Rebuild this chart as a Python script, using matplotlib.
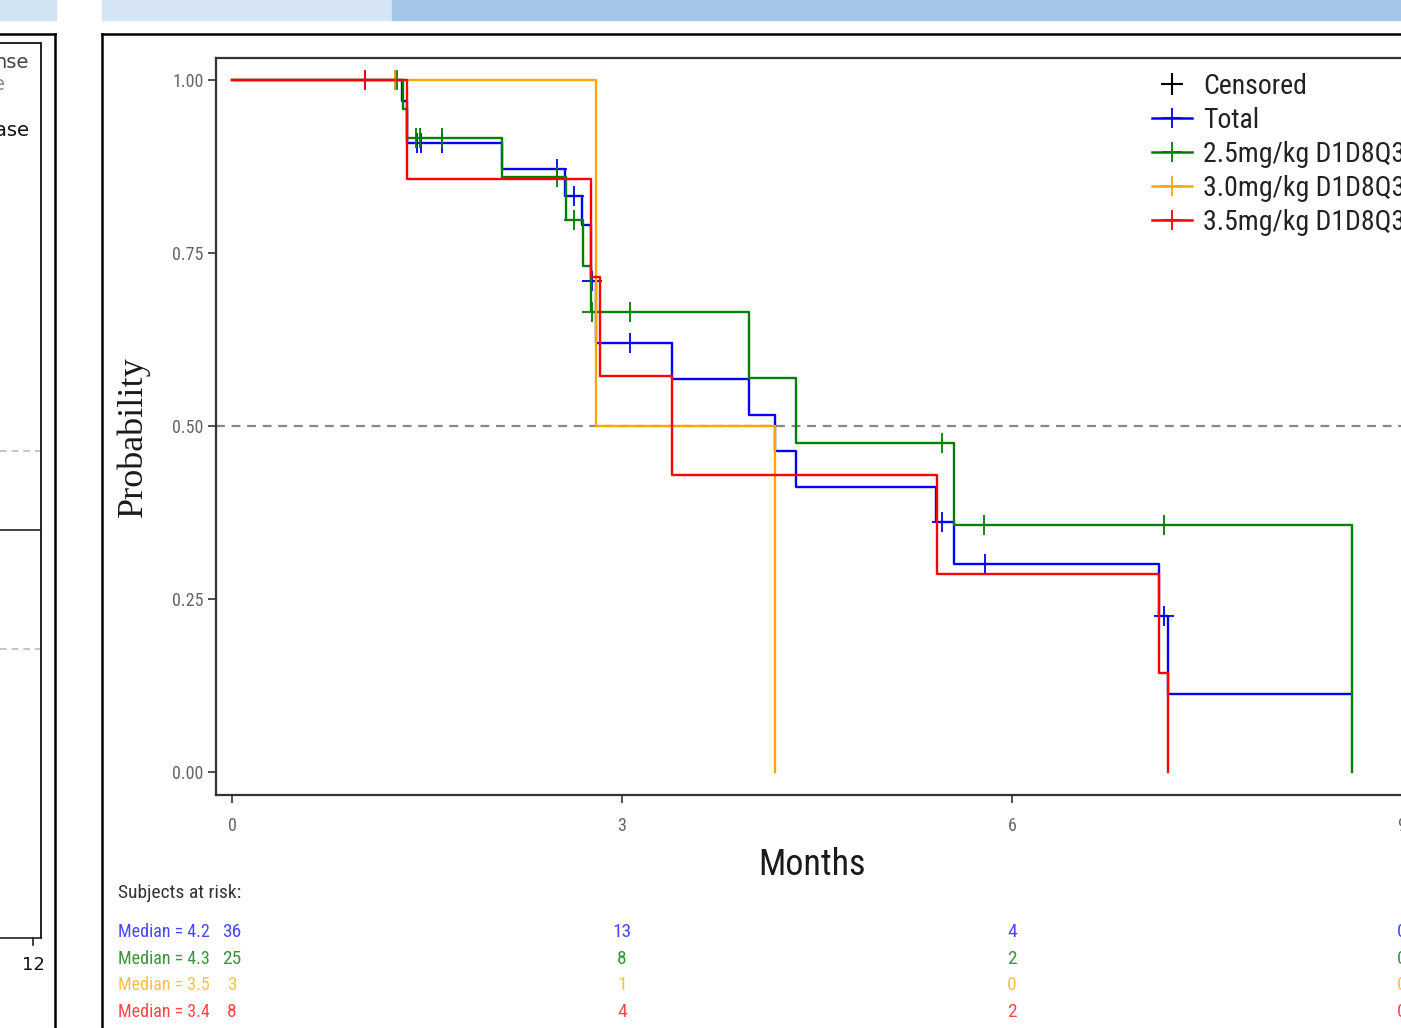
import matplotlib
matplotlib.use("Agg")
import matplotlib.pyplot as plt
from matplotlib import font_manager
from matplotlib.lines import Line2D
from matplotlib.patches import Rectangle
from matplotlib.transforms import blended_transform_factory
import numpy as np

# ---------------- data ----------------
groups = ["Total", "2.5mg/kg D1D8Q3W", "3.0mg/kg D1D8Q3W", "3.5mg/kg D1D8Q3W"]
colors = ["#0000FF", "#008000", "#FFA500", "#FF0000"]
table_colors = ["#4747FF", "#3A963A", "#FFC04D", "#FF4747"]

total_t = [0, 1.31, 1.345, 2.075, 2.565, 2.695, 2.76, 2.80, 3.385, 3.98, 4.18, 4.34, 5.415, 5.555, 7.133, 7.197, 8.613]
total_s = [1.0, 0.970, 0.909, 0.871, 0.832, 0.791, 0.709, 0.620, 0.5675, 0.5155, 0.464, 0.412, 0.361, 0.3006, 0.226, 0.1127, 0.1127]
total_cens = [1.02, 1.25, 1.42, 1.45, 1.615, 2.50, 2.63, 2.77, 3.06, 5.46, 5.79, 7.167]

g25_t = [0, 1.318, 1.349, 2.075, 2.567, 2.697, 2.764, 3.98, 4.338, 5.554, 8.613]
g25_s = [1.0, 0.958, 0.9166, 0.860, 0.798, 0.7317, 0.665, 0.570, 0.475, 0.357, 0.0]
g25_cens = [1.27, 1.415, 1.446, 1.615, 2.50, 2.63, 2.766, 3.06, 5.46, 5.787, 7.17]

g30_t = [0, 2.797, 4.18]
g30_s = [1.0, 0.5, 0.0]
g30_cens = [1.25]

g35_t = [0, 1.349, 2.764, 2.828, 3.387, 5.423, 7.133, 7.197]
g35_s = [1.0, 0.857, 0.715, 0.572, 0.429, 0.286, 0.143, 0.0]
g35_cens = [1.02]

medians = [4.2, 4.3, 3.5, 3.4]
risk_times = [0, 3, 6, 9]
risk_total = [36, 13, 4, 0]
risk_25 = [25, 8, 2, 0]
risk_30 = [3, 1, 0, 0]
risk_35 = [8, 4, 2, 0]

x_ticks = [0, 3, 6, 9]
y_ticks = [0.0, 0.25, 0.5, 0.75, 1.0]
y_ticklabels = ["0.00", "0.25", "0.50", "0.75", "1.00"]

# ---------------- fonts ----------------
names = {f.name for f in font_manager.fontManager.ttflist}
def pick(c):
    for n in c:
        if n in names:
            return n
    return "DejaVu Sans"
NARROW = pick(["Liberation Sans Narrow", "DejaVu Sans Condensed", "Roboto Condensed", "Liberation Sans"])
SERIF = pick(["Liberation Serif", "DejaVu Serif"])

W, H = 1401, 1028
fig = plt.figure(figsize=(W / 100, H / 100), dpi=100)
fig.patch.set_facecolor("white")

def fx(px):
    return px / W
def fy(py):
    return 1 - py / H

# ---------------- background decorations ----------------
fig.patches.append(Rectangle((0, fy(20)), fx(56), 20 / H, transform=fig.transFigure, color="#D2E3F4", zorder=0))
fig.patches.append(Rectangle((fx(102), fy(20)), fx(290), 20 / H, transform=fig.transFigure, color="#D5E5F5", zorder=0))
fig.patches.append(Rectangle((fx(392), fy(20)), fx(1009), 20 / H, transform=fig.transFigure, color="#A2C5E8", zorder=0))

def fline(xs, ys, **kw):
    fig.add_artist(Line2D([fx(x) for x in xs], [fy(y) for y in ys], transform=fig.transFigure, **kw))

# main slide frame
fline([102, 102], [34, 1030], color="black", lw=1.8)
fline([102, 1402], [34, 34], color="black", lw=1.8)
# left neighbouring panel
fline([55, 55], [34, 1030], color="black", lw=1.8)
fline([0, 55], [34, 34], color="black", lw=1.8)
fline([41, 41], [43, 938], color="#222222", lw=1.4)
fline([0, 41], [43, 43], color="#222222", lw=1.4)
fline([0, 41], [530, 530], color="#222222", lw=1.2)
fline([0, 41], [938, 938], color="#222222", lw=1.2)
fline([33, 33], [938, 945], color="#222222", lw=1.2)
fline([0, 40], [451, 451], color="#BBBBBB", lw=1.2, ls=(0, (4, 3)))
fline([0, 40], [649, 649], color="#BBBBBB", lw=1.2, ls=(0, (4, 3)))
fig.text(fx(29), fy(63), "nse", ha="right", va="center", fontsize=14, color="#444444", family="DejaVu Sans")
fig.text(fx(5), fy(85), "e", ha="right", va="center", fontsize=14, color="#888888", family="DejaVu Sans")
fig.text(fx(30), fy(131), "ease", ha="right", va="center", fontsize=14, color="#111111", family="DejaVu Sans")
fig.text(fx(33), fy(965), "12", ha="center", va="center", fontsize=13, color="#111111", family="DejaVu Sans")

# ---------------- axes ----------------
ax_left, ax_right, ax_top, ax_bottom = 216, 1440, 58, 795
ax = fig.add_axes([fx(ax_left), fy(ax_bottom), (ax_right - ax_left) / W, (ax_bottom - ax_top) / H])
px_per_month = 130.0
x0_px = 232
ax.set_xlim(-(x0_px - ax_left) / px_per_month, (ax_right - x0_px) / px_per_month)
ax.set_ylim(1 - (ax_bottom - 80) / 692.0, 1 + (80 - ax_top) / 692.0)
ax.set_facecolor("white")
for sp in ax.spines.values():
    sp.set_color("#333333")
    sp.set_linewidth(1.6)
ax.set_xticks(x_ticks)
ax.set_xticklabels([str(t) for t in x_ticks])
ax.set_yticks(y_ticks)
ax.set_yticklabels(y_ticklabels)
ax.tick_params(axis="both", direction="out", length=6, width=1.2, color="#333333",
               labelcolor="#666666", labelsize=13)
ax.tick_params(axis="x", pad=10)
ax.tick_params(axis="y", pad=3)
for lab in ax.get_xticklabels() + ax.get_yticklabels():
    lab.set_family(NARROW)

ax.axhline(0.5, color="#888888", lw=1.6, ls=(0, (4, 3)), zorder=1)

series = [
    (total_t, total_s, total_cens),
    (g25_t, g25_s, g25_cens),
    (g30_t, g30_s, g30_cens),
    (g35_t, g35_s, g35_cens),
]

def step_val(ts, ss, t):
    i = np.searchsorted(np.asarray(ts), t, side="right") - 1
    return ss[i]

for k, ((ts, ss, cs), c) in enumerate(zip(series, colors)):
    ax.step(ts, ss, where="post", color=c, lw=1.7, zorder=3 + k)
    cy = [step_val(ts, ss, t) for t in cs]
    ax.plot(cs, cy, ls="none", marker="+", ms=14, mew=1.3, color=c, zorder=3 + k)

# legend
handles = [Line2D([], [], color="black", marker="+", ls="none", ms=16, mew=1.5)]
for c in colors:
    handles.append(Line2D([], [], color=c, marker="+", ms=14, mew=1.3, lw=1.8))
leg = fig.legend(handles, ["Censored"] + groups, loc="upper left",
                 bbox_to_anchor=(fx(1152), fy(73)), frameon=False,
                 prop={"family": NARROW, "size": 20}, labelspacing=0.25,
                 handlelength=1.45, handletextpad=0.4, borderpad=0, borderaxespad=0)
for t in leg.get_texts():
    t.set_color("#222222")

# axis labels
fig.text(fx(812), fy(865), "Months", ha="center", va="center", fontsize=26, family=NARROW, color="#1a1a1a")
fig.text(fx(133), fy(437), "Probability", ha="center", va="center", rotation=90, fontsize=26,
         family=SERIF, color="#1a1a1a")

# risk table
fig.text(fx(118), fy(893), "Subjects at risk:", ha="left", va="center", fontsize=14, family=NARROW, color="#333333")
trans = blended_transform_factory(ax.transData, fig.transFigure)
rows = [risk_total, risk_25, risk_30, risk_35]
row_y = [932, 959, 985, 1012]
for med, counts, c, yy in zip(medians, rows, table_colors, row_y):
    fig.text(fx(118), fy(yy), f"Median = {med}", ha="left", va="center", fontsize=13, family=NARROW, color=c)
    for t, n in zip(risk_times, counts):
        ax.text(t, fy(yy), str(n), transform=trans, ha="center", va="center", fontsize=14,
                family=NARROW, color=c, clip_on=False)

fig.savefig("out.png", dpi=100)
